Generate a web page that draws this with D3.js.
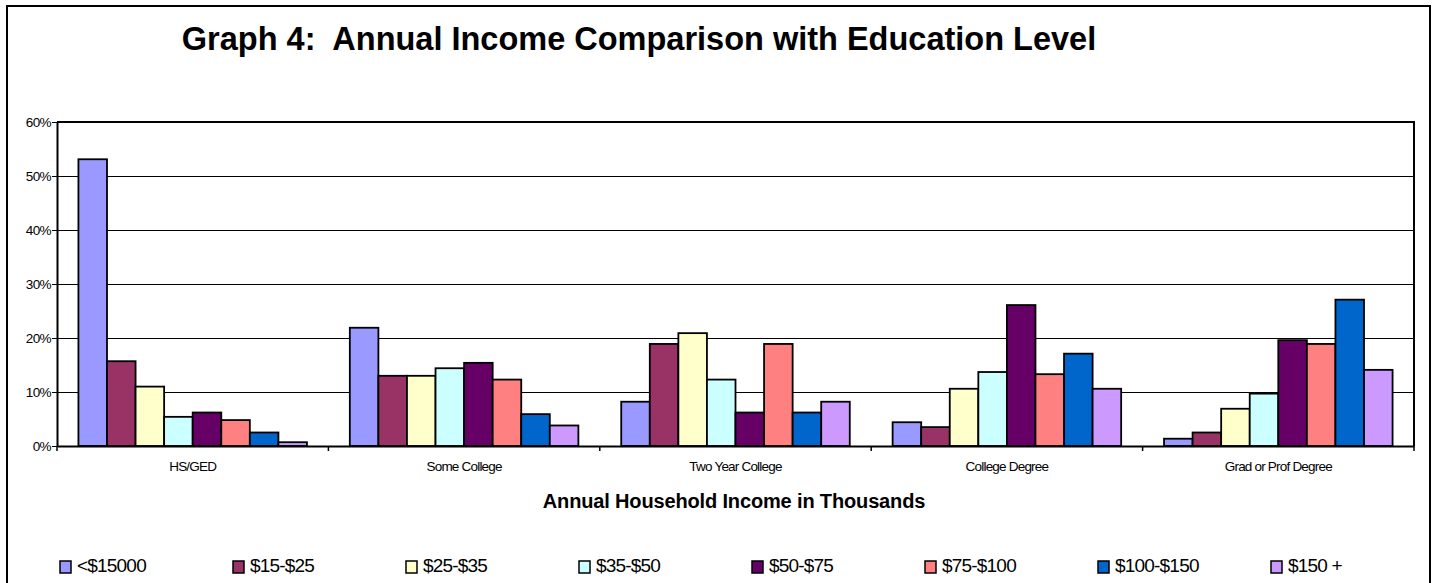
<!DOCTYPE html>
<html>
<head>
<meta charset="utf-8">
<script src="https://cdn.jsdelivr.net/npm/d3@7"></script>
<style>
    body { margin: 0; background: #fff; }
    svg { display: block; font-family: "Liberation Sans", Arial, sans-serif; }
</style>
</head>
<body>
<div id="viz"></div>
<script>
// Data
const categories = ["HS/GED", "Some College", "Two Year College", "College Degree", "Grad or Prof Degree"];
const seriesNames = ["<$15000", "$15-$25", "$25-$35", "$35-$50", "$50-$75", "$75-$100", "$100-$150", "$150 +"];
const seriesColors = ["#9999FF", "#993366", "#FFFFCC", "#CCFFFF", "#660066", "#FF8080", "#0066CC", "#CC99FF"];
// one array per education level, values in percent, in the series order above
const hsGed = [53.1, 15.7, 11.0, 5.4, 6.2, 4.8, 2.5, 0.7];
const someCollege = [21.9, 13.0, 13.0, 14.4, 15.4, 12.3, 5.9, 3.8];
const twoYearCollege = [8.2, 18.9, 20.9, 12.3, 6.2, 18.9, 6.2, 8.2];
const collegeDegree = [4.4, 3.5, 10.6, 13.7, 26.1, 13.3, 17.1, 10.6];
const gradProfDegree = [1.35, 2.5, 6.9, 9.7, 19.6, 18.9, 27.1, 14.1];
const yTicks = [0, 10, 20, 30, 40, 50, 60];

const title = "Graph 4:  Annual Income Comparison with Education Level";
const xTitle = "Annual Household Income in Thousands";

const values = [hsGed, someCollege, twoYearCollege, collegeDegree, gradProfDegree];

const width = 1435, height = 583;
const plot = {left: 57, right: 1414, top: 122, bottom: 446};

const svg = d3.select("#viz").append("svg")
    .attr("width", width)
    .attr("height", height);

svg.append("rect")
    .attr("width", width).attr("height", height)
    .attr("fill", "#fff");

// outer chart frame
svg.append("rect")
    .attr("x", 7).attr("y", 6)
    .attr("width", 1423).attr("height", 600)
    .attr("fill", "none")
    .attr("stroke", "#000")
    .attr("stroke-width", 2);

svg.append("text")
    .attr("x", 639).attr("y", 50)
    .attr("text-anchor", "middle")
    .style("font-size", "32.5px")
    .style("font-weight", "bold")
    .style("white-space", "pre")
    .text(title);

// scales
const x0 = d3.scaleBand()
    .domain(categories)
    .range([plot.left, plot.right]);

// Excel style gap width of 150%: 8 bars + 1.5 bar of gap
const barW = x0.bandwidth() / (seriesNames.length + 1.5);

const x1 = d3.scaleBand()
    .domain(seriesNames)
    .range([barW * 0.75, barW * 0.75 + barW * seriesNames.length]);

const y = d3.scaleLinear()
    .domain([0, 60])
    .range([plot.bottom, plot.top]);

const g = svg.append("g");

// gridlines
g.selectAll(".grid")
    .data(yTicks.slice(1, -1))
    .enter().append("line")
    .attr("x1", plot.left).attr("x2", plot.right)
    .attr("y1", d => y(d)).attr("y2", d => y(d))
    .attr("stroke", "#000")
    .attr("stroke-width", 1)
    .attr("shape-rendering", "crispEdges");

// plot area border (top and right)
g.append("path")
    .attr("d", "M" + plot.left + "," + y(60) + "H" + plot.right + "V" + plot.bottom)
    .attr("fill", "none")
    .attr("stroke", "#000")
    .attr("stroke-width", 2);

// bars
const group = g.selectAll(".cat")
    .data(categories)
    .enter().append("g")
    .attr("class", "cat")
    .attr("transform", d => "translate(" + x0(d) + ",0)");

group.selectAll("rect")
    .data((d, i) => values[i].map((v, j) => ({name: seriesNames[j], value: v, color: seriesColors[j]})))
    .enter().append("rect")
    .attr("x", d => x1(d.name))
    .attr("width", x1.bandwidth())
    .attr("y", d => y(d.value))
    .attr("height", d => y(0) - y(d.value))
    .attr("fill", d => d.color)
    .attr("stroke", "#000")
    .attr("stroke-width", 1.8);

// y axis
const yAxis = g.append("g")
    .attr("transform", "translate(" + plot.left + ",0)")
    .call(d3.axisLeft(y).tickValues(yTicks).tickSize(5).tickSizeOuter(0).tickFormat(d => d + "%"));
yAxis.select(".domain").attr("stroke-width", 2);
yAxis.selectAll("text")
    .style("font-size", "13.5px")
    .style("letter-spacing", "-0.6px")
    .attr("fill", "#000")
    .attr("x", -6).attr("dy", "0.35em");

// x axis
const xAxis = g.append("g")
    .attr("transform", "translate(0," + plot.bottom + ")")
    .call(d3.axisBottom(x0).tickSize(0).tickSizeOuter(0));
xAxis.select(".domain").attr("stroke-width", 2);
xAxis.selectAll("text")
    .style("font-size", "13.5px")
    .style("letter-spacing", "-0.8px")
    .attr("fill", "#000")
    .attr("y", 25).attr("dy", 0);

// x ticks between categories
xAxis.selectAll(".sep")
    .data(categories.concat(["end"]))
    .enter().append("line")
    .attr("x1", (d, i) => i < categories.length ? x0(d) : plot.right)
    .attr("x2", (d, i) => i < categories.length ? x0(d) : plot.right)
    .attr("y1", 0).attr("y2", 5)
    .attr("stroke", "#000")
    .attr("stroke-width", 1.5);

svg.append("text")
    .attr("x", 734).attr("y", 508)
    .attr("text-anchor", "middle")
    .style("font-size", "20px")
    .style("font-weight", "bold")
    .style("letter-spacing", "-0.15px")
    .text(xTitle);

// legend
const legendX = d3.scalePoint()
    .domain(seriesNames)
    .range([60, 60 + 173 * 7]);

const legend = svg.append("g")
    .selectAll(".leg")
    .data(seriesNames)
    .enter().append("g")
    .attr("transform", d => "translate(" + legendX(d) + ",561)");

legend.append("rect")
    .attr("width", 11).attr("height", 12)
    .attr("fill", (d, i) => seriesColors[i])
    .attr("stroke", "#000")
    .attr("stroke-width", 1.5);

legend.append("text")
    .attr("x", 17).attr("y", 11)
    .style("font-size", "19px")
    .style("letter-spacing", "-0.8px")
    .text(d => d);
</script>
</body>
</html>
